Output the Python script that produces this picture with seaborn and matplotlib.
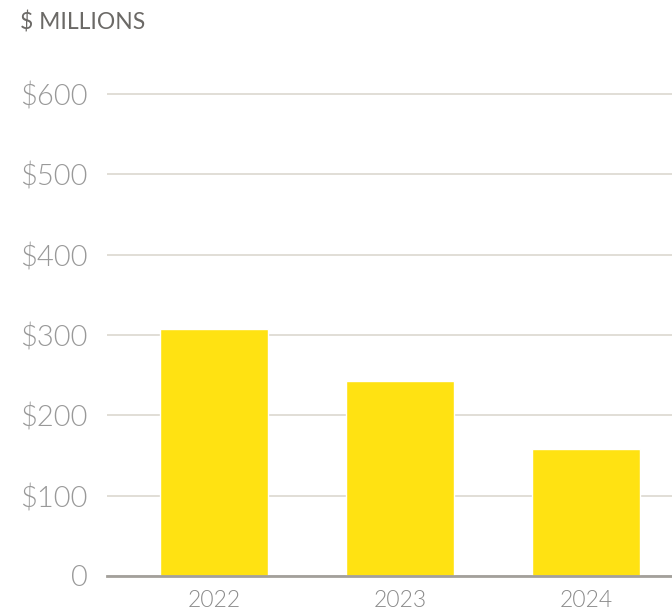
import matplotlib
matplotlib.use("Agg")
import matplotlib.pyplot as plt
import seaborn as sns
import pandas as pd

years = ["2022", "2023", "2024"]
values = [307, 243, 158]
y_ticks = [0, 100, 200, 300, 400, 500, 600]
y_labels = ["0", "$100", "$200", "$300", "$400", "$500", "$600"]

sns.set_theme(style="white")
plt.rcParams["font.family"] = ["Lato", "DejaVu Sans"]

df = pd.DataFrame({"year": years, "value": values})

fig = plt.figure(figsize=(6.72, 6.15), dpi=100)
ax = fig.add_axes([107 / 672, 39 / 615, 1 - 107 / 672, 498.1 / 615])

sns.barplot(data=df, x="year", y="value", color="#FFE212", saturation=1,
            width=0.58, ax=ax, zorder=3)

ax.set_xlim(-0.577, 2.461)
ax.set_ylim(0, 620)
ax.set_yticks(y_ticks)
ax.set_yticklabels(y_labels)
ax.yaxis.grid(True, color="#dcd8d0", linewidth=1.2, zorder=0)
ax.xaxis.grid(False)
ax.set_axisbelow(True)
for s in ["top", "right", "left"]:
    ax.spines[s].set_visible(False)
ax.spines["bottom"].set_color("#a3a09b")
ax.spines["bottom"].set_linewidth(2)
ax.spines["bottom"].set_zorder(4)
ax.tick_params(axis="y", length=0, pad=14, labelsize=21, labelcolor="#999999")
ax.tick_params(axis="x", length=0, pad=10, labelsize=16.5, labelcolor="#8a8a8a")
for lab in ax.get_yticklabels() + ax.get_xticklabels():
    lab.set_fontweight(300)
ax.set_xlabel("")
ax.set_ylabel("")

fig.text(20 / 672, 1 - 22 / 615, "$ MILLIONS", fontsize=16.5, color="#6b6966",
         ha="left", va="center")

fig.savefig("out.png", dpi=100)
